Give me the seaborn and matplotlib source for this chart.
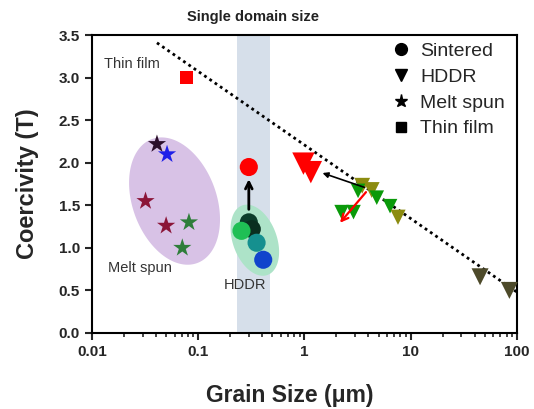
import numpy as np
import pandas as pd
import seaborn as sns
import matplotlib.pyplot as plt
from matplotlib.lines import Line2D

# ---- data ----
# melt spun (stars)
star_x = [0.041, 0.051, 0.032, 0.050, 0.082, 0.071]
star_y = [2.22, 2.10, 1.55, 1.26, 1.30, 1.00]
star_c = ["#2b0f2b", "#1f1fe8", "#8b1538", "#8b1538", "#2e7d3a", "#2e7d3a"]

# sintered (circles)
circ_x = [0.30, 0.30, 0.32, 0.256, 0.355, 0.41]
circ_y = [1.95, 1.30, 1.22, 1.20, 1.06, 0.86]
circ_c = ["#ff0000", "#0b3d2a", "#0a2f20", "#1fbf55", "#15908f", "#1144cc"]

# HDDR (down triangles)
tri_x = [0.98, 1.15, 3.5, 4.3, 3.2, 4.8, 6.4, 2.24, 2.9, 7.6, 45, 85]
tri_y = [1.99, 1.89, 1.73, 1.68, 1.67, 1.59, 1.49, 1.42, 1.42, 1.36, 0.66, 0.50]
tri_c = ["#ff0000", "#ff0000", "#8c8c10", "#8c8c10", "#0a9a0a", "#0a9a0a",
         "#0a9a0a", "#0a9a0a", "#0a9a0a", "#8c8c10", "#4d4a2a", "#4d4a2a"]
tri_s = [260, 260, 130, 130, 110, 110, 110, 110, 110, 120, 150, 150]

# thin film (square)
sq_x = [0.078]
sq_y = [3.00]

# guide line and single-domain band
guide_x = [0.041, 100]
guide_y = [3.41, 0.48]
band = (0.23, 0.47)

sns.set_theme(style="ticks", rc={"axes.linewidth": 1.5, "axes.edgecolor": "black"})
plt.rcParams["font.family"] = ["Liberation Sans", "DejaVu Sans"]

fig = plt.figure(figsize=(5.34, 4.09), dpi=100)
ax = fig.add_axes([0.172, 0.186, 0.796, 0.728])
ax.set_xscale("log")
ax.set_xlim(0.01, 100)
ax.set_ylim(0, 3.5)

ax.axvspan(*band, color="#d6dfea", zorder=0, lw=0)


def tilted_ellipse(xc, yc, a_px, b_px, ang_deg, color):
    # ellipse drawn in screen space so it looks round-ish on the log axis
    cx, cy = ax.transData.transform((xc, yc))
    t = np.linspace(0, 2 * np.pi, 200)
    ang = np.deg2rad(ang_deg)
    px = cx + a_px * np.cos(t) * np.cos(ang) - b_px * np.sin(t) * np.sin(ang)
    py = cy + a_px * np.cos(t) * np.sin(ang) + b_px * np.sin(t) * np.cos(ang)
    pts = ax.transData.inverted().transform(np.column_stack([px, py]))
    ax.fill(pts[:, 0], pts[:, 1], color=color, lw=0, zorder=1)


tilted_ellipse(0.060, 1.55, 66, 42, -70, "#d8c2e6")
tilted_ellipse(0.342, 1.09, 37, 22, -70, "#ade3c8")

sns.lineplot(x=guide_x, y=guide_y, ax=ax, color="black", lw=2,
             linestyle=(0, (1, 1.3)), zorder=2)

stars = pd.DataFrame({"x": star_x, "y": star_y, "c": star_c})
circs = pd.DataFrame({"x": circ_x, "y": circ_y, "c": circ_c})
tris = pd.DataFrame({"x": tri_x, "y": tri_y, "c": tri_c, "s": tri_s})

sns.scatterplot(data=stars, x="x", y="y", hue="c", palette={c: c for c in star_c},
                marker="*", s=190, edgecolor="none", legend=False, ax=ax, zorder=3)
sns.scatterplot(data=circs, x="x", y="y", hue="c", palette={c: c for c in circ_c},
                marker="o", s=170, edgecolor="none", legend=False, ax=ax, zorder=3)
sns.scatterplot(data=tris, x="x", y="y", hue="c", palette={c: c for c in set(tri_c)},
                size="s", sizes=(min(tri_s), max(tri_s)), marker="v",
                edgecolor="none", legend=False, ax=ax, zorder=3, clip_on=False)
sns.scatterplot(x=sq_x, y=sq_y, color="#ff0000", marker="s", s=90,
                edgecolor="none", legend=False, ax=ax, zorder=3)

# arrows
ax.annotate("", xy=(0.30, 1.84), xytext=(0.30, 1.42),
            arrowprops=dict(arrowstyle="->", color="black", lw=2), zorder=4)
ax.annotate("", xy=(1.4, 1.89), xytext=(3.9, 1.70),
            arrowprops=dict(arrowstyle="-|>", color="black", lw=1.2,
                            mutation_scale=8), zorder=4)
ax.annotate("", xy=(2.08, 1.27), xytext=(3.95, 1.68),
            arrowprops=dict(arrowstyle="->", color="red", lw=1.6), zorder=4)

# labels inside the plot
ax.text(0.0131, 3.16, "Thin film", fontsize=10.5, color="#333333", va="center")
ax.text(0.0141, 0.76, "Melt spun", fontsize=10.5, color="#333333", va="center")
ax.text(0.275, 0.56, "HDDR", fontsize=10.5, color="#333333", va="center", ha="center")
ax.text(0.33, 1.06, "Single domain size", transform=ax.get_xaxis_transform(),
        fontsize=10.5, fontweight="bold", ha="center", va="center", color="#222222")

handles = [
    Line2D([], [], ls="none", marker="o", color="black", ms=8.5, label="Sintered"),
    Line2D([], [], ls="none", marker="v", color="black", ms=8.5, label="HDDR"),
    Line2D([], [], ls="none", marker="*", color="black", ms=9.5, label="Melt spun"),
    Line2D([], [], ls="none", marker="s", color="black", ms=7, label="Thin film"),
]
ax.legend(handles=handles, loc="upper right", bbox_to_anchor=(0.985, 0.995),
          frameon=False, fontsize=14, handletextpad=0.45, labelspacing=0.42,
          borderaxespad=0.0, borderpad=0.3, handlelength=1.0)

ax.set_xticks([0.01, 0.1, 1, 10, 100])
ax.set_xticklabels(["0.01", "0.1", "1", "10", "100"])
ax.set_yticks(np.arange(0, 3.51, 0.5))
ax.set_yticklabels([f"{v:.1f}" for v in np.arange(0, 3.51, 0.5)])
ax.tick_params(axis="both", which="major", direction="out", length=5, width=1.5,
               labelsize=11)
ax.tick_params(axis="x", which="minor", direction="out", length=3, width=1.2)
for lab in ax.get_xticklabels() + ax.get_yticklabels():
    lab.set_fontweight("bold")

ax.set_xlabel("Grain Size (μm)", fontsize=16.5, fontweight="bold")
ax.set_ylabel("Coercivity (T)", fontsize=17, fontweight="bold")
ax.xaxis.set_label_coords(0.465, -0.17)
ax.yaxis.set_label_coords(-0.125, 0.5)

fig.savefig("out.png", dpi=100)
